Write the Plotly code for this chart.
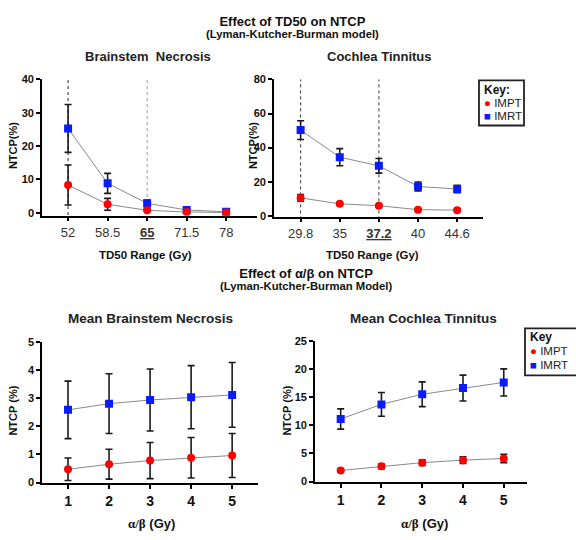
import plotly.graph_objects as go

# ---------------- data ----------------
td50_bs = ["52", "58.5", "65", "71.5", "78"]
bs_impt = [8.3, 2.5, 0.7, 0.2, 0.05]
bs_impt_err = [6.0, 1.8, 0.3, 0.15, 0.1]
bs_imrt = [25.3, 8.8, 2.8, 0.8, 0.25]
bs_imrt_err = [7.2, 3.0, 1.0, 0.4, 0.3]

td50_co = ["29.8", "35", "37.2", "40", "44.6"]
co_impt = [10.5, 7.0, 5.9, 3.6, 3.3]
co_impt_err = [2.0, 0.8, 0.7, 0.6, 0.5]
co_imrt = [50.3, 34.4, 29.3, 17.2, 15.7]
co_imrt_err = [5.5, 5.0, 4.3, 2.6, 2.2]

ab = [1, 2, 3, 4, 5]
mbs_impt = [0.47, 0.65, 0.78, 0.88, 0.96]
mbs_impt_err = [0.40, 0.53, 0.64, 0.72, 0.78]
mbs_imrt = [2.58, 2.80, 2.93, 3.03, 3.11]
mbs_imrt_err = [1.02, 1.06, 1.10, 1.12, 1.15]

mco_impt = [1.96, 2.7, 3.35, 3.8, 4.1]
mco_impt_err = [0.2, 0.4, 0.5, 0.6, 0.75]
mco_imrt = [11.1, 13.7, 15.5, 16.6, 17.6]
mco_imrt_err = [1.8, 2.1, 2.2, 2.3, 2.4]

bs_marked = ["52", "65"]
co_marked = ["29.8", "37.2"]
bs_underlined = ["65"]
co_underlined = ["37.2"]

RED = "#ff0000"
BLUE = "#0a1cff"
LINE = "#8a8a8a"
ERR = "#1a1a1a"
FONT = "Arial, Liberation Sans, sans-serif"
W, H = 576, 540


def px(x):
    return x / W


def py(y):
    return 1 - y / H


fig = go.Figure()


def add_pair(x, impt, impt_err, imrt, imrt_err, xa, ya):
    for name, vals, errs, col, sym, size in [
        ("IMRT", imrt, imrt_err, BLUE, "square", 8),
        ("IMPT", impt, impt_err, RED, "circle", 8),
    ]:
        fig.add_trace(go.Scatter(
            x=x, y=vals, name=name, mode="lines+markers",
            line=dict(color=LINE, width=1),
            marker=dict(color=col, symbol=sym, size=size),
            error_y=dict(type="data", array=errs, visible=True,
                         color=ERR, thickness=1.6, width=3.5),
            xaxis=xa, yaxis=ya, showlegend=False,
        ))


add_pair(td50_bs, bs_impt, bs_impt_err, bs_imrt, bs_imrt_err, "x", "y")
add_pair(td50_co, co_impt, co_impt_err, co_imrt, co_imrt_err, "x2", "y2")
add_pair(ab, mbs_impt, mbs_impt_err, mbs_imrt, mbs_imrt_err, "x3", "y3")
add_pair(ab, mco_impt, mco_impt_err, mco_imrt, mco_imrt_err, "x4", "y4")

axis_common = dict(showline=True, linecolor="black", linewidth=1.6,
                   ticks="outside", ticklen=4, tickwidth=1.5, tickcolor="black",
                   showgrid=False, zeroline=False)


def ticktext(cats, underlined):
    return [f"<b><u>{c}</u></b>" if c in underlined else c for c in cats]


fig.update_layout(
    width=W, height=H, margin=dict(l=0, r=0, t=0, b=0),
    plot_bgcolor="white", paper_bgcolor="white",
    font=dict(family=FONT, color="#111"),
    xaxis=dict(domain=[px(42), px(257)], anchor="y", type="category",
               categoryorder="array", categoryarray=td50_bs,
               range=[-0.66, 4.78], tickvals=td50_bs,
               ticktext=ticktext(td50_bs, bs_underlined),
               tickfont=dict(size=13, color="#333"), **axis_common),
    yaxis=dict(domain=[py(214), py(75)], anchor="x", range=[-0.9, 40],
               tickvals=[0, 10, 20, 30, 40],
               tickfont=dict(size=11, weight="bold", color="#111"), **axis_common),
    xaxis2=dict(domain=[px(274), px(483)], anchor="y2", type="category",
                categoryorder="array", categoryarray=td50_co,
                range=[-0.68, 4.66], tickvals=td50_co,
                ticktext=ticktext(td50_co, co_underlined),
                tickfont=dict(size=13, color="#333"), **axis_common),
    yaxis2=dict(domain=[py(215), py(75)], anchor="x2", range=[-0.5, 80],
                tickvals=[0, 20, 40, 60, 80],
                tickfont=dict(size=11, weight="bold", color="#111"), **axis_common),
    xaxis3=dict(domain=[px(42), px(258)], anchor="y3", range=[0.366, 5.63],
                tickvals=ab, tickfont=dict(size=14, weight="bold", color="#111"),
                **axis_common),
    yaxis3=dict(domain=[py(487), py(342.7)], anchor="x3", range=[-0.02, 5],
                tickvals=[0, 1, 2, 3, 4, 5],
                tickfont=dict(size=11, weight="bold", color="#111"), **axis_common),
    xaxis4=dict(domain=[px(315), px(527)], anchor="y4", range=[0.37, 5.57],
                tickvals=ab, tickfont=dict(size=14, weight="bold", color="#111"),
                **axis_common),
    yaxis4=dict(domain=[py(486), py(341.7)], anchor="x4", range=[-0.1, 25],
                tickvals=[0, 5, 10, 15, 20, 25],
                tickfont=dict(size=11, weight="bold", color="#111"), **axis_common),
)

# vertical dotted reference lines
shapes = []
for c in bs_marked:
    shapes.append(dict(type="line", xref="x", yref="y domain",
                       x0=td50_bs.index(c), x1=td50_bs.index(c), y0=-0.04, y1=1,
                       line=dict(color="#222" if c == "52" else "#999", width=1, dash="dot"),
                       layer="below"))
for c in co_marked:
    shapes.append(dict(type="line", xref="x2", yref="y2 domain",
                       x0=td50_co.index(c), x1=td50_co.index(c), y0=-0.02, y1=1,
                       line=dict(color="#333", width=1, dash="dot"), layer="below"))

# legend boxes
shapes.append(dict(type="rect", xref="paper", yref="paper",
                   x0=px(479), x1=px(524), y0=py(122), y1=py(76),
                   line=dict(color="#222", width=1.8), fillcolor="white"))
shapes.append(dict(type="rect", xref="paper", yref="paper",
                   x0=px(525), x1=px(578), y0=py(377), y1=py(329),
                   line=dict(color="#222", width=1.8), fillcolor="white"))
fig.update_layout(shapes=shapes)

annots = []


def ann(text, x, y, size, xanchor="center", angle=0, color="#111"):
    annots.append(dict(text=text, x=px(x), y=py(y), xref="paper", yref="paper",
                       showarrow=False, xanchor=xanchor, yanchor="middle",
                       textangle=angle, font=dict(size=size, color=color, family=FONT)))


NB = "\u00a0"
ann("<span style='font-size:13px'><b>Effect of TD50 on NTCP</b></span><br>"
    "<span style='font-size:11.3px'><b>(Lyman-Kutcher-Burman model)</b></span>", 292, 21, 9.6)
ann(f"<b>Brainstem{NB} Necrosis</b>", 148, 52, 13, color="#222")
ann("<b>Cochlea Tinnitus</b>", 379, 52, 13, color="#222")
ann("<b>TD50 Range (Gy)</b>", 145, 254, 11.5)
ann("<b>TD50 Range (Gy)</b>", 372, 254, 11.5)
ann("<b>NTCP(%)</b>", 13, 143, 11, angle=-90)
ann("<b>NTCP(%)</b>", 253, 143, 11, angle=-90)

ann("<span style='font-size:13px'><b>Effect of α/β on NTCP</b></span><br>"
    "<span style='font-size:11.3px'><b>(Lyman-Kutcher-Burman Model)</b></span>", 306, 279, 9.6)
ann("<b>Mean Brainstem Necrosis</b>", 150, 319, 13.5, color="#222")
ann("<b>Mean Cochlea Tinnitus</b>", 423, 319, 13.5, color="#222")
serif = "<span style='font-family:Liberation Serif, Times New Roman, serif'>α/β</span>"
ann(f"<b>{serif} (Gy)</b>", 151, 528, 13)
ann(f"<b>{serif} (Gy)</b>", 424, 528, 13)
ann("<b>NTCP (%)</b>", 13, 413, 11, angle=-90)
ann("<b>NTCP (%)</b>", 287, 413, 11, angle=-90)

# legend contents
ann("<b>Key:</b>", 482, 86, 12, xanchor="left")
ann(f"<span style='color:{RED}'>●</span> IMPT", 482, 99, 11.5, xanchor="left", color="#222")
ann(f"<span style='color:{BLUE}'>■</span> IMRT", 482, 112, 11.5, xanchor="left", color="#222")
ann("<b>Key</b>", 528, 338, 12, xanchor="left")
ann(f"<span style='color:{RED}'>●</span> IMPT", 528, 352, 11.5, xanchor="left", color="#222")
ann(f"<span style='color:{BLUE}'>■</span> IMRT", 528, 366, 11.5, xanchor="left", color="#222")

fig.update_layout(annotations=annots)
fig.write_html("out.html", config={"displayModeBar": False},
               post_script="document.body.style.margin='0';"
                           "document.documentElement.style.overflow='hidden';")
